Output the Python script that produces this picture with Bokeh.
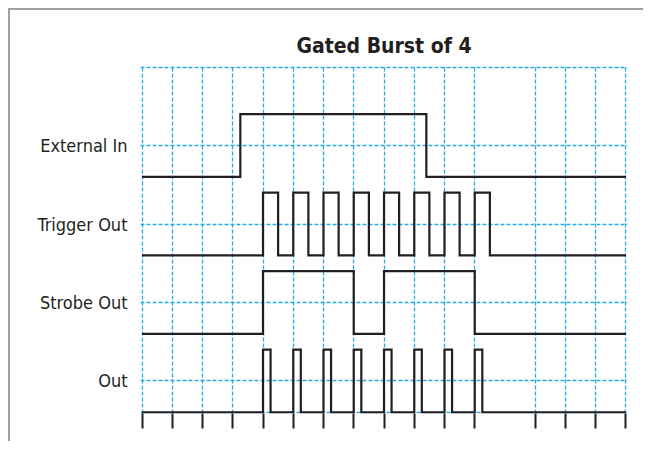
from bokeh.plotting import figure
from bokeh.models import FixedTicker
from bokeh.embed import file_html
from bokeh.resources import INLINE

# ---- data ----
title_text = "Gated Burst of 4"
signal_names = ["External In", "Trigger Out", "Strobe Out", "Out"]
signal_lows = [3, 2, 1, 0]
pulse_height = 0.8
external_in_edges = [3.25, 9.4]
trigger_out_edges = [4, 4.5, 5, 5.5, 6, 6.5, 7, 7.5, 8, 8.5, 9, 9.5, 10, 10.5, 11, 11.5]
strobe_out_edges = [4, 7, 8, 11]
out_edges = [4, 4.25, 5, 5.25, 6, 6.25, 7, 7.25, 8, 8.25, 9, 9.25, 10, 10.25, 11, 11.25]
time_start, time_end = 0, 16
x_grid_ticks = [0, 1, 2, 3, 4, 5, 6, 7, 8, 9, 10, 11, 13, 14, 15, 16]
y_grid_ticks = [0, 0.4, 1.4, 2.4, 3.4, 4.4]

all_edges = [external_in_edges, trigger_out_edges, strobe_out_edges, out_edges]

FONT = "DejaVu Sans Condensed"
INK = "#231f20"
GRID = "#29abe2"
FRAME = "#a0a0a0"


def step_path(edges, low, high):
    xs, ys = [time_start], [low]
    level = low
    for e in edges:
        other = high if level == low else low
        xs += [e, e]
        ys += [level, other]
        level = other
    xs.append(time_end)
    ys.append(level)
    return xs, ys


p = figure(width=643, height=441, output_backend="svg", toolbar_location=None,
           x_range=(-0.05, 16.05), y_range=(-0.015, 4.42),
           min_border_left=140, min_border_right=16,
           min_border_top=65, min_border_bottom=28)
# page frame: grey rule on the left and top only
p.styles = {
    "background": (f"linear-gradient({FRAME},{FRAME}) 8px 8px / 2px 100% no-repeat, "
                   f"linear-gradient({FRAME},{FRAME}) 8px 8px / 100% 2px no-repeat, white"),
}
p.outline_line_color = None
p.background_fill_color = "white"
p.border_fill_color = None

p.title.text = title_text
p.title.align = "center"
p.title.text_font = FONT
p.title.text_font_style = "bold"
p.title.text_font_size = "21px"
p.title.text_color = INK
p.title.standoff = 15

# grid
p.xgrid.ticker = FixedTicker(ticks=x_grid_ticks)
p.ygrid.ticker = FixedTicker(ticks=y_grid_ticks)
for g in (p.xgrid, p.ygrid):
    g.grid_line_color = GRID
    g.grid_line_dash = "4 2"
    g.grid_line_width = 1.3
    g.grid_line_alpha = 1

# x axis: only outward ticks
p.xaxis.ticker = FixedTicker(ticks=x_grid_ticks)
p.xaxis.axis_line_color = None
p.xaxis.major_tick_out = 15
p.xaxis.major_tick_in = 0
p.xaxis.major_tick_line_width = 2
p.xaxis.major_tick_line_color = INK
p.xaxis.minor_tick_line_color = None
p.xaxis.major_label_overrides = {t: "" for t in x_grid_ticks}
p.xaxis.major_label_text_font_size = "8px"
p.xaxis.major_label_standoff = 0

# y axis: signal names
label_ticks = [lo + pulse_height / 2 for lo in signal_lows]
p.yaxis.ticker = FixedTicker(ticks=label_ticks)
p.yaxis.major_label_overrides = {t: n for t, n in zip(label_ticks, signal_names)}
p.yaxis.axis_line_color = None
p.yaxis.major_tick_line_color = None
p.yaxis.major_tick_out = 0
p.yaxis.major_tick_in = 0
p.yaxis.minor_tick_line_color = None
p.yaxis.minor_tick_out = 0
p.yaxis.major_label_standoff = 13
p.yaxis.major_label_text_font = FONT
p.yaxis.major_label_text_font_size = "18px"
p.yaxis.major_label_text_color = INK

for edges, low in zip(all_edges, signal_lows):
    xs, ys = step_path(edges, low, low + pulse_height)
    p.line(xs, ys, line_color=INK, line_width=2.2, line_join="miter")

open("out.html", "w").write(file_html(p, INLINE))
